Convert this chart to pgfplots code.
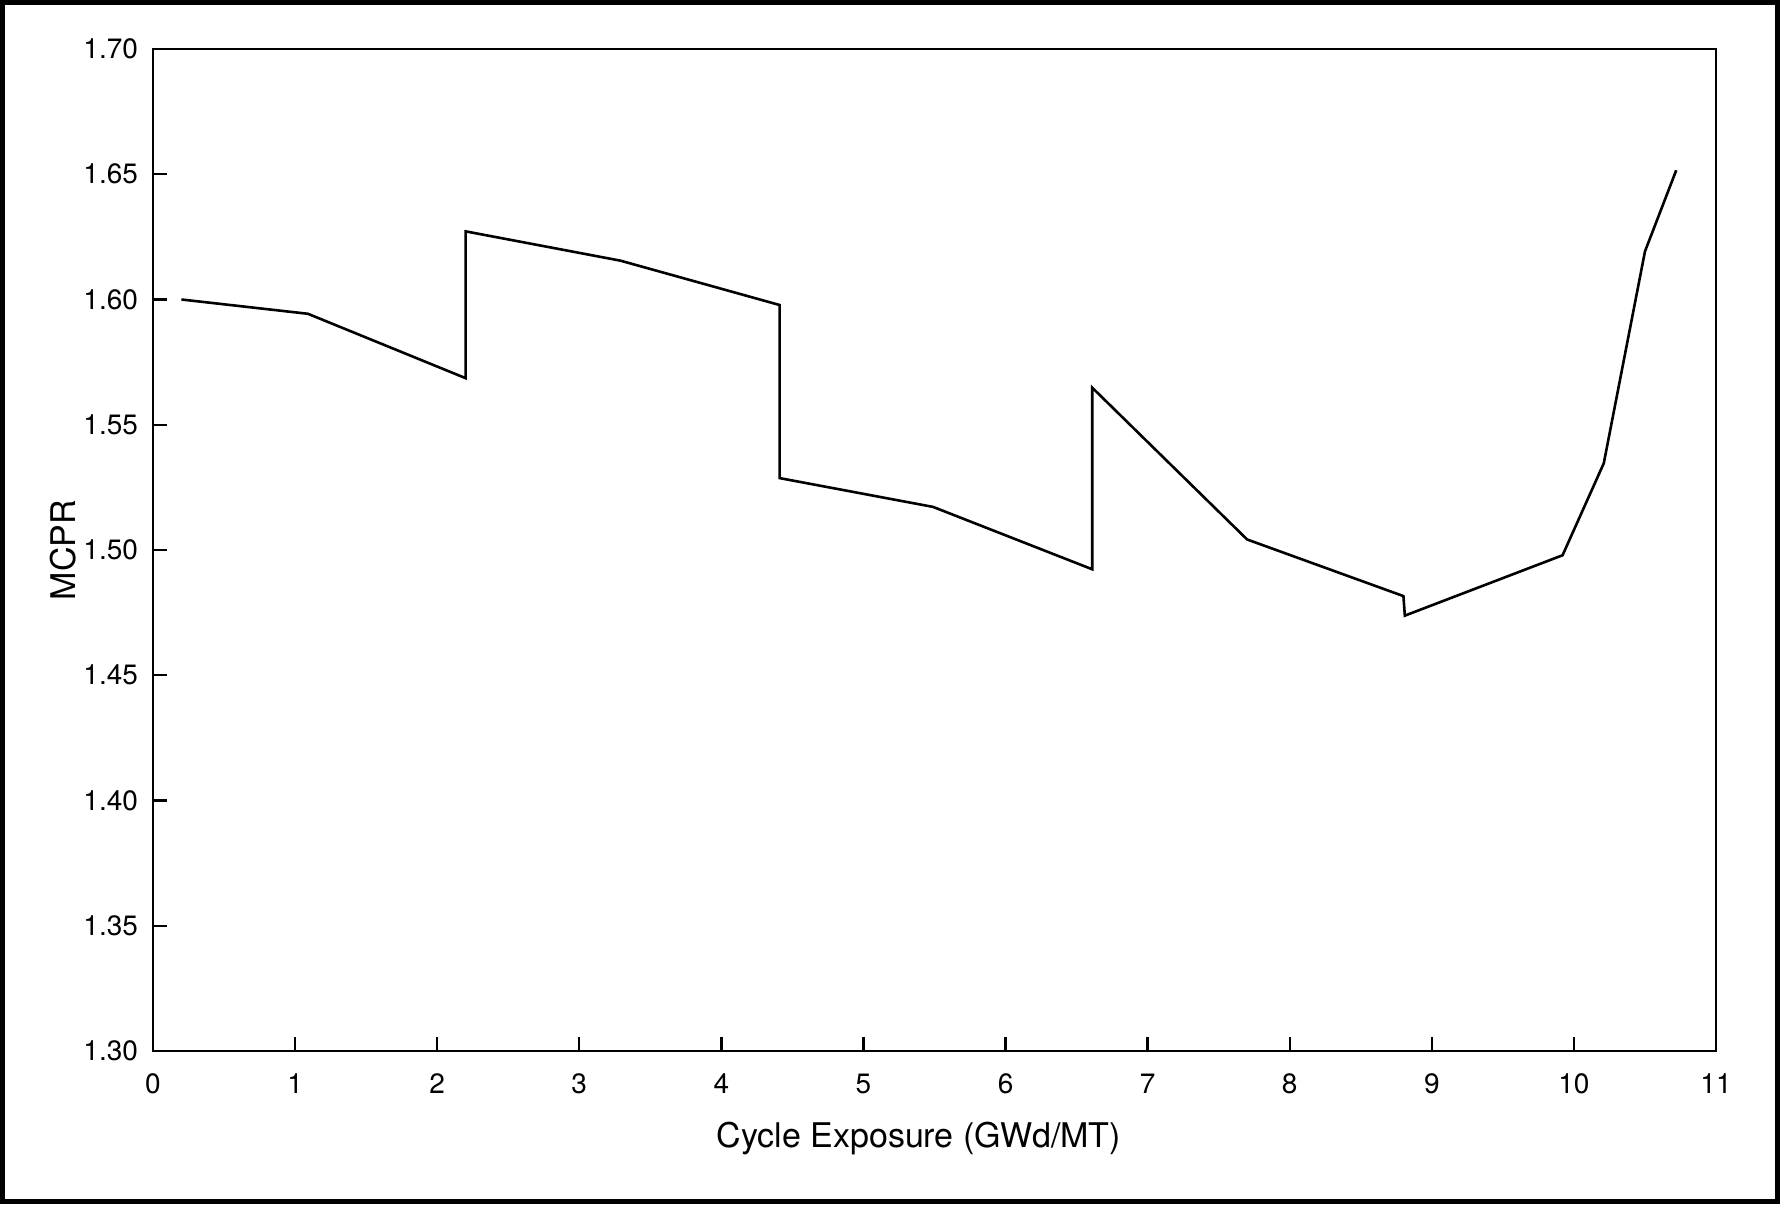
\documentclass[border=0pt]{standalone}
\usepackage{fontspec}
\setmainfont{TeX Gyre Heros}
\usepackage{pgfplots}
\pgfplotsset{compat=1.18}

% MCPR versus cycle exposure
\pgfplotstableread{
x      y
0.20   1.6000
1.09   1.5943
2.20   1.5686
2.20   1.6272
3.29   1.6155
4.41   1.5978
4.41   1.5287
5.49   1.5172
6.61   1.4923
6.61   1.5648
7.70   1.5042
8.80   1.4816
8.81   1.4738
9.92   1.4979
10.21  1.5346
10.50  1.6192
10.72  1.6516
}\mcprdata

\begin{document}
\begin{tikzpicture}
\useasboundingbox (0,0) rectangle (890pt,602pt);
\draw[line width=2.4pt] (1.2pt,1.2pt) rectangle (888.8pt,600.8pt);
\begin{axis}[
  at={(76.5pt,76.5pt)}, anchor=south west,
  scale only axis,
  width=781.5pt, height=501pt,
  xmin=0, xmax=11, ymin=1.30, ymax=1.70,
  xtick={0,1,...,11},
  ytick={1.30,1.35,1.40,1.45,1.50,1.55,1.60,1.65,1.70},
  yticklabel style={/pgf/number format/fixed, /pgf/number format/fixed zerofill,
    /pgf/number format/precision=2, xshift=-4pt},
  xticklabel style={yshift=-8pt},
  /pgf/number format/assume math mode=true,
  tick align=inside,
  xtick pos=bottom, ytick pos=left,
  major tick length=7pt,
  every tick/.style={black, line width=1.2pt},
  axis line style={line width=1.2pt},
  tick label style={font=\fontsize{14}{16}\selectfont},
  label style={font=\fontsize{17}{20}\selectfont},
  xlabel={Cycle Exposure (GWd/MT)},
  ylabel={MCPR},
  xlabel style={at={(rel axis cs:0.49,0)}, anchor=base, yshift=-48pt},
  ylabel style={at={(rel axis cs:0,0.5)}, anchor=center, yshift=45pt},
  clip=false,
]
\addplot[black, line width=1.3pt, line join=miter] table[x=x, y=y] {\mcprdata};
\end{axis}
\end{tikzpicture}
\end{document}
